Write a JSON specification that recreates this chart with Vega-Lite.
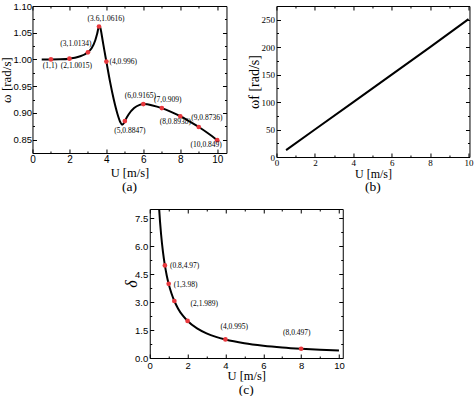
{
  "$schema": "https://vega.github.io/schema/vega-lite/v6.json",
  "padding": 0,
  "background": "white",
  "config": {
    "view": {"stroke": "black", "strokeWidth": 1},
    "axis": {"grid": false, "domain": false, "tickColor": "black", "labelColor": "black", "titleColor": "black", "titleFontWeight": "normal", "labelOverlap": false, "labelFlush": false, "minExtent": 0}
  },
  "datasets": {
    "curveA": [
      {"U": 0.5, "w": 1.0}, {"U": 1, "w": 1.0}, {"U": 1.5, "w": 1.0003}, {"U": 2, "w": 1.0015}, {"U": 2.5, "w": 1.005},
      {"U": 3, "w": 1.0134}, {"U": 3.2, "w": 1.021}, {"U": 3.4, "w": 1.036}, {"U": 3.5, "w": 1.048}, {"U": 3.6, "w": 1.0616},
      {"U": 3.65, "w": 1.0618}, {"U": 3.7, "w": 1.055}, {"U": 3.8, "w": 1.035}, {"U": 3.9, "w": 1.015}, {"U": 4, "w": 0.996},
      {"U": 4.2, "w": 0.958}, {"U": 4.4, "w": 0.925}, {"U": 4.6, "w": 0.898}, {"U": 4.75, "w": 0.883}, {"U": 4.85, "w": 0.878},
      {"U": 4.95, "w": 0.881}, {"U": 5, "w": 0.8847}, {"U": 5.2, "w": 0.897}, {"U": 5.5, "w": 0.909}, {"U": 5.8, "w": 0.915},
      {"U": 6, "w": 0.9165}, {"U": 6.5, "w": 0.914}, {"U": 7, "w": 0.909}, {"U": 7.5, "w": 0.902}, {"U": 8, "w": 0.8938},
      {"U": 8.5, "w": 0.884}, {"U": 9, "w": 0.8736}, {"U": 9.5, "w": 0.862}, {"U": 10, "w": 0.849}
    ],
    "ptsA": [
      {"U": 1, "w": 1.0, "label": "(1,1)"},
      {"U": 2, "w": 1.0015, "label": "(2,1.0015)"},
      {"U": 3, "w": 1.0134, "label": "(3,1.0134)"},
      {"U": 3.6, "w": 1.0616, "label": "(3.6,1.0616)"},
      {"U": 4, "w": 0.996, "label": "(4,0.996)"},
      {"U": 5, "w": 0.8847, "label": "(5,0.8847)"},
      {"U": 6, "w": 0.9165, "label": "(6,0.9165)"},
      {"U": 7, "w": 0.909, "label": "(7,0.909)"},
      {"U": 8, "w": 0.8938, "label": "(8,0.8938)"},
      {"U": 9, "w": 0.8736, "label": "(9,0.8736)"},
      {"U": 10, "w": 0.849, "label": "(10,0.849)"}
    ],
    "lineB": [
      {"U": 0.5, "wf": 12.5}, {"U": 2, "wf": 50}, {"U": 4, "wf": 100}, {"U": 6, "wf": 150}, {"U": 8, "wf": 200}, {"U": 10, "wf": 251}
    ],
    "curveC": [
      {"U": 0.497, "d": 8.0}, {"U": 0.5, "d": 7.95}, {"U": 0.6, "d": 6.63}, {"U": 0.7, "d": 5.68}, {"U": 0.8, "d": 4.97},
      {"U": 0.9, "d": 4.42}, {"U": 1.0, "d": 3.98}, {"U": 1.15, "d": 3.46}, {"U": 1.3, "d": 3.06}, {"U": 1.5, "d": 2.65},
      {"U": 1.75, "d": 2.27}, {"U": 2, "d": 1.989}, {"U": 2.5, "d": 1.59}, {"U": 3, "d": 1.326}, {"U": 3.5, "d": 1.136},
      {"U": 4, "d": 0.995}, {"U": 5, "d": 0.795}, {"U": 6, "d": 0.663}, {"U": 7, "d": 0.568}, {"U": 8, "d": 0.497},
      {"U": 9, "d": 0.442}, {"U": 10, "d": 0.398}
    ],
    "ptsC": [
      {"U": 0.8, "d": 4.97, "label": "(0.8,4.97)"},
      {"U": 1, "d": 3.98, "label": "(1,3.98)"},
      {"U": 1.3, "d": 3.06, "label": ""},
      {"U": 2, "d": 1.989, "label": "(2,1.989)"},
      {"U": 4, "d": 0.995, "label": "(4,0.995)"},
      {"U": 8, "d": 0.497, "label": "(8,0.497)"}
    ]
  },
  "spacing": 14,
  "center": true,
  "vconcat": [
    {
      "spacing": 20,
      "hconcat": [
        {
          "width": 194, "height": 147,
          "title": {"text": "(a)", "orient": "bottom", "font": "Liberation Serif", "fontSize": 13.5, "fontWeight": "normal", "offset": 1, "color": "black"},
          "resolve": {"axis": {"x": "independent", "y": "independent"}},
          "layer": [
            {
              "data": {"name": "curveA"},
              "mark": {"type": "line", "color": "black", "strokeWidth": 2, "interpolate": "monotone"},
              "encoding": {
                "x": {"field": "U", "type": "quantitative", "scale": {"domain": [0, 10.5], "nice": false, "zero": false},
                  "axis": {"orient": "bottom", "title": "U [m/s]", "values": [0,1,2,3,4,5,6,7,8,9,10], "labelExpr": "datum.value % 2 === 0 ? datum.label : ''", "tickSize": {"condition": {"test": "datum.value % 2 === 0", "value": -4}, "value": -2}, "labelPadding": 5, "labelFont": "Liberation Sans", "labelFontSize": 10, "titleFont": "Liberation Serif", "titleFontSize": 12.5, "titlePadding": 0}},
                "y": {"field": "w", "type": "quantitative", "scale": {"domain": [0.825, 1.1], "nice": false, "zero": false},
                  "axis": {"orient": "left", "title": "ω [rad/s]", "values": [0.85,0.875,0.9,0.925,0.95,0.975,1.0,1.025,1.05,1.075,1.1], "format": ".2f", "labelExpr": "abs(datum.value*20-round(datum.value*20))<0.001 ? datum.label : ''", "tickSize": {"condition": {"test": "abs(datum.value*20-round(datum.value*20))<0.001", "value": -4}, "value": -2}, "labelPadding": 5, "labelFont": "Liberation Sans", "labelFontSize": 9.5, "titleFont": "Liberation Serif", "titleFontSize": 13, "titlePadding": -1}}
              }
            },
            {
              "data": {"name": "ptsA"},
              "mark": {"type": "circle", "color": "#e8383d", "size": 22, "opacity": 1},
              "encoding": {
                "x": {"field": "U", "type": "quantitative", "axis": {"orient": "top", "title": null, "labels": false, "values": [0,1,2,3,4,5,6,7,8,9,10], "tickSize": {"condition": {"test": "datum.value % 2 === 0", "value": -4}, "value": -2}}},
                "y": {"field": "w", "type": "quantitative", "axis": {"orient": "right", "title": null, "labels": false, "values": [0.85,0.875,0.9,0.925,0.95,0.975,1.0,1.025,1.05,1.075,1.1], "tickSize": {"condition": {"test": "abs(datum.value*20-round(datum.value*20))<0.001", "value": -4}, "value": -2}}}
              }
            },
            {"data": {"name": "ptsA"}, "transform": [{"filter": "datum.U == 1"}], "mark": {"type": "text", "font": "Liberation Serif", "fontSize": 7.5, "color": "black", "dx": -1, "dy": 7}, "encoding": {"x": {"field": "U", "type": "quantitative", "axis": null}, "y": {"field": "w", "type": "quantitative", "axis": null}, "text": {"field": "label"}}},
            {"data": {"name": "ptsA"}, "transform": [{"filter": "datum.U == 2"}], "mark": {"type": "text", "font": "Liberation Serif", "fontSize": 7.5, "color": "black", "dx": 7, "dy": 7}, "encoding": {"x": {"field": "U", "type": "quantitative", "axis": null}, "y": {"field": "w", "type": "quantitative", "axis": null}, "text": {"field": "label"}}},
            {"data": {"name": "ptsA"}, "transform": [{"filter": "datum.U == 3"}], "mark": {"type": "text", "font": "Liberation Serif", "fontSize": 7.5, "color": "black", "dx": -12, "dy": -8}, "encoding": {"x": {"field": "U", "type": "quantitative", "axis": null}, "y": {"field": "w", "type": "quantitative", "axis": null}, "text": {"field": "label"}}},
            {"data": {"name": "ptsA"}, "transform": [{"filter": "datum.U == 3.6"}], "mark": {"type": "text", "font": "Liberation Serif", "fontSize": 7.5, "color": "black", "dx": 7, "dy": -8}, "encoding": {"x": {"field": "U", "type": "quantitative", "axis": null}, "y": {"field": "w", "type": "quantitative", "axis": null}, "text": {"field": "label"}}},
            {"data": {"name": "ptsA"}, "transform": [{"filter": "datum.U == 4"}], "mark": {"type": "text", "font": "Liberation Serif", "fontSize": 7.5, "color": "black", "align": "left", "dx": 3, "dy": 0}, "encoding": {"x": {"field": "U", "type": "quantitative", "axis": null}, "y": {"field": "w", "type": "quantitative", "axis": null}, "text": {"field": "label"}}},
            {"data": {"name": "ptsA"}, "transform": [{"filter": "datum.U == 5"}], "mark": {"type": "text", "font": "Liberation Serif", "fontSize": 7.5, "color": "black", "dx": 5, "dy": 10}, "encoding": {"x": {"field": "U", "type": "quantitative", "axis": null}, "y": {"field": "w", "type": "quantitative", "axis": null}, "text": {"field": "label"}}},
            {"data": {"name": "ptsA"}, "transform": [{"filter": "datum.U == 6"}], "mark": {"type": "text", "font": "Liberation Serif", "fontSize": 7.5, "color": "black", "dx": -3, "dy": -8}, "encoding": {"x": {"field": "U", "type": "quantitative", "axis": null}, "y": {"field": "w", "type": "quantitative", "axis": null}, "text": {"field": "label"}}},
            {"data": {"name": "ptsA"}, "transform": [{"filter": "datum.U == 7"}], "mark": {"type": "text", "font": "Liberation Serif", "fontSize": 7.5, "color": "black", "dx": 6, "dy": -8}, "encoding": {"x": {"field": "U", "type": "quantitative", "axis": null}, "y": {"field": "w", "type": "quantitative", "axis": null}, "text": {"field": "label"}}},
            {"data": {"name": "ptsA"}, "transform": [{"filter": "datum.U == 8"}], "mark": {"type": "text", "font": "Liberation Serif", "fontSize": 7.5, "color": "black", "dx": -5, "dy": 6}, "encoding": {"x": {"field": "U", "type": "quantitative", "axis": null}, "y": {"field": "w", "type": "quantitative", "axis": null}, "text": {"field": "label"}}},
            {"data": {"name": "ptsA"}, "transform": [{"filter": "datum.U == 9"}], "mark": {"type": "text", "font": "Liberation Serif", "fontSize": 7.5, "color": "black", "dx": 8, "dy": -9}, "encoding": {"x": {"field": "U", "type": "quantitative", "axis": null}, "y": {"field": "w", "type": "quantitative", "axis": null}, "text": {"field": "label"}}},
            {"data": {"name": "ptsA"}, "transform": [{"filter": "datum.U == 10"}], "mark": {"type": "text", "font": "Liberation Serif", "fontSize": 7.5, "color": "black", "dx": -11, "dy": 5}, "encoding": {"x": {"field": "U", "type": "quantitative", "axis": null}, "y": {"field": "w", "type": "quantitative", "axis": null}, "text": {"field": "label"}}}
          ]
        },
        {
          "width": 193, "height": 151,
          "title": {"text": "(b)", "orient": "bottom", "font": "Liberation Serif", "fontSize": 13.5, "fontWeight": "normal", "offset": 1, "color": "black"},
          "resolve": {"axis": {"x": "independent", "y": "independent"}},
          "layer": [
            {
              "data": {"name": "lineB"},
              "mark": {"type": "line", "color": "black", "strokeWidth": 2},
              "encoding": {
                "x": {"field": "U", "type": "quantitative", "scale": {"domain": [0, 10.05], "nice": false, "zero": false},
                  "axis": {"orient": "bottom", "title": "U [m/s]", "values": [0,1,2,3,4,5,6,7,8,9,10], "labelExpr": "datum.value % 2 === 0 ? datum.label : ''", "tickSize": {"condition": {"test": "datum.value % 2 === 0", "value": -4}, "value": -2}, "labelPadding": 5, "labelFont": "Liberation Serif", "labelFontSize": 9, "titleFont": "Liberation Serif", "titleFontSize": 12, "titlePadding": -1}},
                "y": {"field": "wf", "type": "quantitative", "scale": {"domain": [0, 275], "nice": false},
                  "axis": {"orient": "left", "title": "ωf [rad/s]", "values": [0,25,50,75,100,125,150,175,200,225,250], "labelExpr": "datum.value % 50 === 0 ? datum.label : ''", "tickSize": {"condition": {"test": "datum.value % 50 === 0", "value": -4}, "value": -2}, "labelPadding": 6, "labelFont": "Liberation Serif", "labelFontSize": 9, "titleFont": "Liberation Serif", "titleFontSize": 14, "titlePadding": -1}}
              }
            },
            {
              "data": {"name": "lineB"},
              "mark": {"type": "point", "opacity": 0},
              "encoding": {
                "x": {"field": "U", "type": "quantitative", "axis": {"orient": "top", "title": null, "labels": false, "values": [0,1,2,3,4,5,6,7,8,9,10], "tickSize": {"condition": {"test": "datum.value % 2 === 0", "value": -4}, "value": -2}}},
                "y": {"field": "wf", "type": "quantitative", "axis": {"orient": "right", "title": null, "labels": false, "values": [0,25,50,75,100,125,150,175,200,225,250], "tickSize": {"condition": {"test": "datum.value % 50 === 0", "value": -4}, "value": -2}}}
              }
            }
          ]
        }
      ]
    },
    {
      "width": 193, "height": 149,
      "title": {"text": "(c)", "orient": "bottom", "font": "Liberation Serif", "fontSize": 13.5, "fontWeight": "normal", "offset": 1, "color": "black"},
      "resolve": {"axis": {"x": "independent", "y": "independent"}},
      "layer": [
        {
          "data": {"name": "curveC"},
          "mark": {"type": "line", "color": "black", "strokeWidth": 2, "interpolate": "monotone", "clip": true},
          "encoding": {
            "x": {"field": "U", "type": "quantitative", "scale": {"domain": [0, 10.2], "nice": false, "zero": false},
              "axis": {"orient": "bottom", "title": "U [m/s]", "values": [0,1,2,3,4,5,6,7,8,9,10], "labelExpr": "datum.value % 2 === 0 ? datum.label : ''", "tickSize": {"condition": {"test": "datum.value % 2 === 0", "value": -4}, "value": -2}, "labelPadding": 6, "labelFont": "Liberation Sans", "labelFontSize": 9.5, "titleFont": "Liberation Serif", "titleFontSize": 12.5, "titlePadding": -2}},
            "y": {"field": "d", "type": "quantitative", "scale": {"domain": [0, 8], "nice": false},
              "axis": {"orient": "left", "title": "δ", "values": [0,0.75,1.5,2.25,3,3.75,4.5,5.25,6,6.75,7.5], "format": ".1f", "labelExpr": "abs(datum.value/1.5-round(datum.value/1.5))<0.001 ? datum.label : ''", "tickSize": {"condition": {"test": "abs(datum.value/1.5-round(datum.value/1.5))<0.001", "value": -4}, "value": -2}, "labelPadding": 6, "labelFont": "Liberation Sans", "labelFontSize": 9.5, "titleFont": "Liberation Serif", "titleFontSize": 16, "titleFontStyle": "italic", "titlePadding": -5}}
          }
        },
        {
          "data": {"name": "ptsC"},
          "mark": {"type": "circle", "color": "#e8383d", "size": 22, "opacity": 1},
          "encoding": {
            "x": {"field": "U", "type": "quantitative", "axis": {"orient": "top", "title": null, "labels": false, "values": [0,1,2,3,4,5,6,7,8,9,10], "tickSize": {"condition": {"test": "datum.value % 2 === 0", "value": -4}, "value": -2}}},
            "y": {"field": "d", "type": "quantitative", "axis": {"orient": "right", "title": null, "labels": false, "minExtent": 13, "values": [0,0.75,1.5,2.25,3,3.75,4.5,5.25,6,6.75,7.5], "tickSize": {"condition": {"test": "abs(datum.value/1.5-round(datum.value/1.5))<0.001", "value": -4}, "value": -2}}}
          }
        },
        {"data": {"name": "ptsC"}, "transform": [{"filter": "datum.U == 0.8"}], "mark": {"type": "text", "font": "Liberation Serif", "fontSize": 7.5, "color": "black", "align": "left", "dx": 5, "dy": 1}, "encoding": {"x": {"field": "U", "type": "quantitative", "axis": null}, "y": {"field": "d", "type": "quantitative", "axis": null}, "text": {"field": "label"}}},
        {"data": {"name": "ptsC"}, "transform": [{"filter": "datum.U == 1"}], "mark": {"type": "text", "font": "Liberation Serif", "fontSize": 7.5, "color": "black", "align": "left", "dx": 5, "dy": 1}, "encoding": {"x": {"field": "U", "type": "quantitative", "axis": null}, "y": {"field": "d", "type": "quantitative", "axis": null}, "text": {"field": "label"}}},
        {"data": {"name": "ptsC"}, "transform": [{"filter": "datum.U == 2"}], "mark": {"type": "text", "font": "Liberation Serif", "fontSize": 7.5, "color": "black", "align": "left", "dx": 3, "dy": -17}, "encoding": {"x": {"field": "U", "type": "quantitative", "axis": null}, "y": {"field": "d", "type": "quantitative", "axis": null}, "text": {"field": "label"}}},
        {"data": {"name": "ptsC"}, "transform": [{"filter": "datum.U == 4"}], "mark": {"type": "text", "font": "Liberation Serif", "fontSize": 7.5, "color": "black", "align": "left", "dx": -5, "dy": -12}, "encoding": {"x": {"field": "U", "type": "quantitative", "axis": null}, "y": {"field": "d", "type": "quantitative", "axis": null}, "text": {"field": "label"}}},
        {"data": {"name": "ptsC"}, "transform": [{"filter": "datum.U == 8"}], "mark": {"type": "text", "font": "Liberation Serif", "fontSize": 7.5, "color": "black", "align": "left", "dx": -18, "dy": -16}, "encoding": {"x": {"field": "U", "type": "quantitative", "axis": null}, "y": {"field": "d", "type": "quantitative", "axis": null}, "text": {"field": "label"}}}
      ]
    }
  ]
}
